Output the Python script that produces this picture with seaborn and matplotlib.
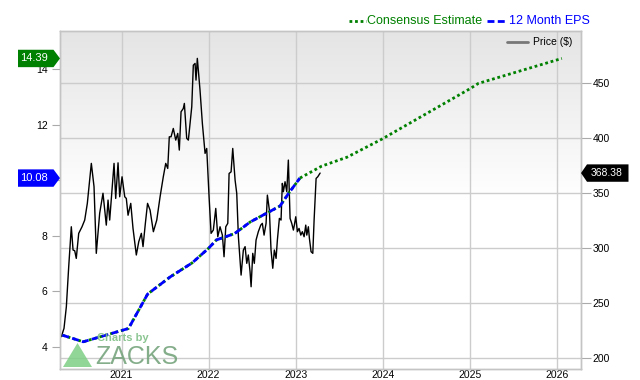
import numpy as np
import pandas as pd
import matplotlib
matplotlib.use("Agg")
import matplotlib.pyplot as plt
import seaborn as sns
from matplotlib.patches import Polygon
from matplotlib.lines import Line2D

# ---------------- data ----------------
price_years = [2020.308, 2020.339, 2020.366, 2020.393, 2020.423, 2020.443, 2020.462, 2020.480,
               2020.508, 2020.546, 2020.577, 2020.607, 2020.653, 2020.684, 2020.710, 2020.749,
               2020.787, 2020.825, 2020.845, 2020.864, 2020.914, 2020.933, 2020.960, 2020.979,
               2021.006, 2021.037, 2021.055, 2021.075, 2021.106, 2021.132, 2021.170, 2021.198,
               2021.228, 2021.247, 2021.274, 2021.299, 2021.328, 2021.366, 2021.405, 2021.443,
               2021.480, 2021.508, 2021.531, 2021.549, 2021.569, 2021.595, 2021.623, 2021.646,
               2021.664, 2021.684, 2021.710, 2021.722, 2021.749, 2021.768, 2021.807, 2021.825,
               2021.845, 2021.856, 2021.871, 2021.902, 2021.929, 2021.960, 2021.979, 2022.006,
               2022.029, 2022.055, 2022.083, 2022.106, 2022.132, 2022.159, 2022.178, 2022.198,
               2022.221, 2022.236, 2022.259, 2022.278, 2022.305, 2022.324, 2022.343, 2022.374,
               2022.400, 2022.420, 2022.439, 2022.457, 2022.477, 2022.489, 2022.508, 2022.526,
               2022.546, 2022.572, 2022.600, 2022.618, 2022.638, 2022.661, 2022.676, 2022.699,
               2022.718, 2022.738, 2022.756, 2022.776, 2022.791, 2022.814, 2022.833, 2022.848,
               2022.860, 2022.879, 2022.899, 2022.917, 2022.937, 2022.956, 2022.975, 2022.986,
               2023.002, 2023.021, 2023.040, 2023.060, 2023.078, 2023.098, 2023.117, 2023.129,
               2023.147, 2023.159, 2023.178, 2023.198, 2023.213, 2023.236, 2023.255, 2023.282]
price_values = [219.4, 227.0, 246.7, 283.0, 319.5, 298.3, 297.7, 290.7,
                313.5, 319.5, 325.6, 340.8, 377.2, 356.0, 295.3, 331.8,
                350.0, 321.0, 343.8, 325.6, 377.2, 345.3, 377.7, 346.8,
                365.0, 346.8, 345.3, 330.0, 340.8, 318.0, 293.8, 305.9,
                313.5, 301.4, 322.6, 340.8, 334.7, 315.0, 325.6, 346.8,
                365.0, 377.2, 372.6, 401.4, 401.4, 409.0, 398.4, 404.5,
                389.3, 424.2, 427.2, 431.8, 400.0, 398.4, 428.7, 466.6,
                468.2, 453.0, 472.8, 443.9, 413.6, 386.3, 390.8, 346.8,
                313.5, 316.5, 336.2, 310.4, 319.5, 311.9, 292.2, 319.5,
                322.6, 368.0, 369.5, 390.8, 362.0, 349.9, 310.4, 275.5,
                298.3, 301.4, 286.2, 293.8, 278.6, 264.9, 295.3, 286.2,
                307.4, 315.0, 321.0, 322.6, 311.9, 322.6, 348.3, 334.7,
                298.3, 281.7, 298.3, 290.7, 307.4, 327.1, 325.6, 359.0,
                351.4, 360.5, 351.4, 380.2, 327.1, 322.6, 316.5, 321.0,
                328.6, 315.0, 318.0, 311.9, 315.0, 310.4, 321.0, 311.9,
                319.5, 308.9, 296.8, 295.3, 325.6, 363.5, 365.0, 368.38]

eps_years = [2020.32, 2020.56, 2021.08, 2021.30, 2021.56, 2021.81, 2022.00,
             2022.09, 2022.30, 2022.48, 2022.82, 2022.92, 2023.05]
eps_values = [4.42, 4.18, 4.66, 5.90, 6.52, 7.02, 7.55,
              7.85, 8.08, 8.50, 9.07, 9.53, 10.08]

cons_years = [2023.05, 2023.30, 2023.59, 2023.99, 2025.01, 2025.10, 2026.06]
cons_values = [10.08, 10.51, 10.83, 11.48, 13.31, 13.49, 14.39]

year_ticks = [2021, 2022, 2023, 2024, 2025, 2026]
year_labels = ["2021", "2022", "2023", "2024", "2025", "2026"]
eps_ticks = [4, 6, 8, 10, 12, 14]
eps_tick_labels = ["4", "6", "8", "", "12", "14"]   # "10" sits under the EPS flag
price_ticks = [200, 250, 300, 350, 400, 450]

eps_last_label = "10.08"
cons_last_label = "14.39"
price_last_label = "368.38"

# ---------------- style ----------------
sns.set_style("white")
plt.rcParams["font.family"] = ["Liberation Sans", "DejaVu Sans"]

GREEN = "#008000"
BLUE = "#0000ff"
GRID = "#cccccc"
SPINE = "#c4c4c4"

W, H = 640, 380
fig = plt.figure(figsize=(6.4, 3.8), dpi=100)
L, R, T, B = 60, 581, 30.7, 369.0
ax = fig.add_axes([L / W, 1 - B / H, (R - L) / W, (B - T) / H])
ax2 = ax.twinx()

# background gradient
n = 200
frac = np.linspace(0, 1, n)  # 0 = top
vals = np.where(frac < 0.5, 0.895 + 0.105 * (frac / 0.5), 1.0)
img = np.dstack([vals, vals, vals]).reshape(n, 1, 3)
ax.imshow(img, extent=(0, 1, 0, 1), transform=ax.transAxes, aspect="auto", zorder=-2,
          interpolation="bilinear")

price_df = pd.DataFrame({"year": price_years, "price": price_values})
eps_df = pd.DataFrame({"year": eps_years, "eps": eps_values})
cons_df = pd.DataFrame({"year": cons_years, "eps": cons_values})

sns.lineplot(data=price_df, x="year", y="price", ax=ax, color="black", linewidth=1.0,
             estimator=None, sort=False, legend=False)

sns.lineplot(data=eps_df, x="year", y="eps", ax=ax2, color=GREEN, linewidth=2.0,
             estimator=None, sort=False, legend=False, linestyle=(0, (1, 1)))
sns.lineplot(data=eps_df, x="year", y="eps", ax=ax2, color=BLUE, linewidth=2.0,
             estimator=None, sort=False, legend=False, linestyle=(0, (2.5, 1.2)))
sns.lineplot(data=cons_df, x="year", y="eps", ax=ax2, color=GREEN, linewidth=2.0,
             estimator=None, sort=False, legend=False, linestyle=(0, (1, 1)))

# limits
ax.set_xlim(2020.293, 2026.28)
ax.set_ylim(190, 498)
ax2.set_ylim(3.2, 15.39)

# price axis ticks on the right, EPS axis on the left
ax.yaxis.tick_right()
ax.yaxis.set_label_position("right")
ax2.yaxis.tick_left()
ax2.yaxis.set_label_position("left")

ax.set_xticks(year_ticks)
ax.set_xticklabels(year_labels)
ax.set_yticks(price_ticks)
ax.set_yticklabels([str(v) for v in price_ticks])
ax2.set_yticks(eps_ticks)
ax2.set_yticklabels(eps_tick_labels)

ax.tick_params(axis="x", length=0, pad=0.5, labelsize=7.5, colors="black")
ax.tick_params(axis="y", which="both", right=True, left=False, labelright=True, labelleft=False,
               length=7, width=0.8, color="#aaaaaa", pad=1.5, labelsize=7.5, labelcolor="black")
ax2.tick_params(axis="y", which="both", left=True, right=False, labelleft=True, labelright=False,
                length=6, width=0.8, color="#aaaaaa", pad=3, labelsize=7.5, labelcolor="black")

ax.set_axisbelow(True)
ax.grid(True, axis="both", color=GRID, linewidth=1.0)
ax2.grid(False)
ax.set_xlabel("")
ax.set_ylabel("")
ax2.set_xlabel("")
ax2.set_ylabel("")
for a in (ax, ax2):
    for s in a.spines.values():
        s.set_color(SPINE)
        s.set_linewidth(1.0)

# ---------------- top legend ----------------
fig.add_artist(Line2D([349 / W, 366 / W], [1 - 21 / H, 1 - 21 / H], color=GREEN, lw=2,
                      linestyle=(0, (1, 1)), transform=fig.transFigure))
fig.text(367 / W, 1 - 20.5 / H, "Consensus Estimate", color=GREEN, fontsize=9,
         ha="left", va="center")
fig.add_artist(Line2D([487 / W, 507 / W], [1 - 21 / H, 1 - 21 / H], color=BLUE, lw=2,
                      linestyle=(0, (2.5, 1.2)), transform=fig.transFigure))
fig.text(509 / W, 1 - 20.5 / H, "12 Month EPS", color=BLUE, fontsize=9,
         ha="left", va="center")

# Price legend inside plot
fig.add_artist(Line2D([507 / W, 528 / W], [1 - 42 / H, 1 - 42 / H], color="#777777", lw=2,
                      transform=fig.transFigure))
fig.text(533 / W, 1 - 42 / H, "Price ($)", color="black", fontsize=7.5,
         ha="left", va="center")

# ---------------- value flags ----------------
fig.canvas.draw()
def y_fig(axis, v):
    disp = axis.transData.transform((2021, v))
    return fig.transFigure.inverted().transform(disp)[1]

def left_flag(v, label, color):
    yc = y_fig(ax2, v)
    hh = 8.7 / H
    pts = [(18 / W, yc - hh), (53.5 / W, yc - hh), (60 / W, yc), (53.5 / W, yc + hh), (18 / W, yc + hh)]
    fig.add_artist(Polygon(pts, closed=True, facecolor=color, edgecolor="none",
                           transform=fig.transFigure, zorder=5))
    fig.text(34 / W, yc, label, color="white", fontsize=8, ha="center", va="center", zorder=6)

def right_flag(v, label, color):
    yc = y_fig(ax, v)
    hh = 8.7 / H
    pts = [(581 / W, yc), (587 / W, yc - hh), (628.5 / W, yc - hh), (628.5 / W, yc + hh), (587 / W, yc + hh)]
    fig.add_artist(Polygon(pts, closed=True, facecolor=color, edgecolor="none",
                           transform=fig.transFigure, zorder=5))
    fig.text(607 / W, yc, label, color="white", fontsize=7.5, ha="center", va="center", zorder=6)

left_flag(cons_values[-1], cons_last_label, GREEN)
left_flag(eps_values[-1], eps_last_label, BLUE)
right_flag(price_values[-1], price_last_label, "black")

# ---------------- watermark ----------------
fig.add_artist(Polygon([(63 / W, 1 - 367 / H), (77.5 / W, 1 - 343 / H), (92 / W, 1 - 367 / H)],
                       closed=True, facecolor="#7fcf85", edgecolor="none", alpha=0.85,
                       transform=fig.transFigure, zorder=4))
fig.text(97 / W, 1 - 338 / H, "Charts by", color="#7fbf85", fontsize=8, fontweight="bold",
         ha="left", va="center", alpha=0.9, zorder=4)
fig.text(95 / W, 1 - 357 / H, "ZACKS", color="#6f9f76", fontsize=18,
         ha="left", va="center", alpha=0.85, zorder=4)

fig.savefig("out.png", dpi=100)
